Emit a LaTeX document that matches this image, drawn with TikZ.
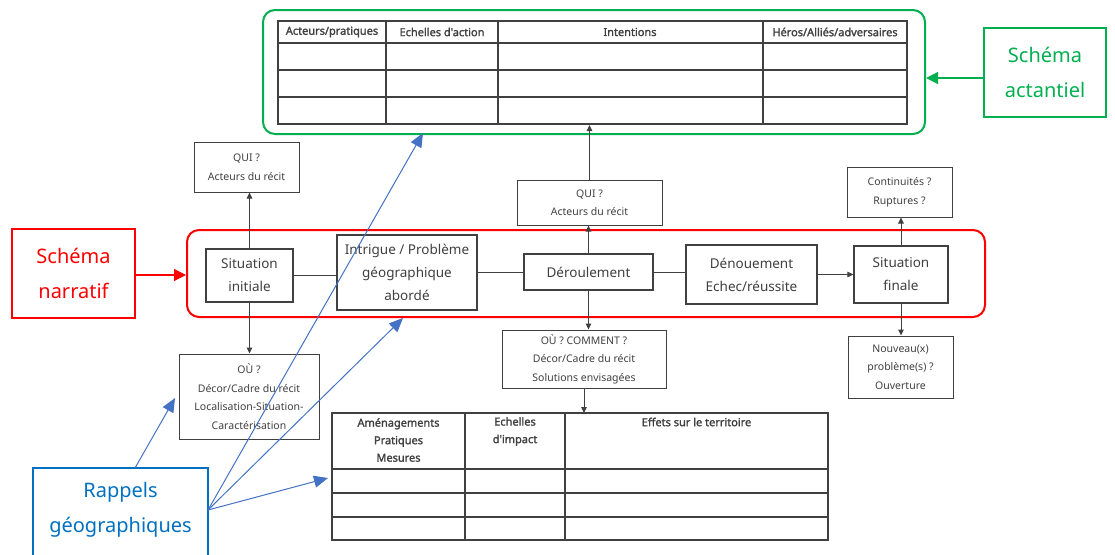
\documentclass[tikz,border=0pt]{standalone}
\usepackage{fontspec}
\setmainfont{Noto Sans}
\newfontfamily\entete[FakeBold=1.8]{Noto Sans}
\usetikzlibrary{arrows.meta}

\definecolor{boxgray}{RGB}{64,64,64}
\definecolor{narred}{RGB}{255,0,0}
\definecolor{actgreen}{RGB}{0,176,80}
\definecolor{rapblue}{RGB}{0,112,192}
\definecolor{arrblue}{RGB}{68,114,196}

\tikzset{
  etape/.style={draw=boxgray, line width=1.2pt, text=boxgray, align=center, inner sep=0pt,
    font=\fontsize{13.5}{23}\selectfont},
  question/.style={draw=boxgray, line width=1pt, text=boxgray, align=center, inner sep=0pt,
    font=\fontsize{10.5}{18.5}\selectfont},
  titre/.style={line width=1.2pt, align=center, inner sep=0pt, font=\fontsize{20}{35}\selectfont},
  cellule/.style={text=boxgray, align=center, inner sep=0pt,
    font=\entete\fontsize{11}{17.5}\selectfont},
  fleche/.style={-{Triangle[length=6pt,width=5.5pt]}, line width=1pt, boxgray},
  rappel/.style={-{Triangle[length=14pt,width=12pt]}, line width=1pt, arrblue},
}

\begin{document}
\begin{tikzpicture}[x=1pt,y=-1pt]
  \useasboundingbox (0,0) rectangle (1115,554);

  % schema actantiel
  \node[draw=actgreen, line width=2pt, rounded corners=12pt, minimum width=662pt, minimum height=124pt] (actantiel) at (594,72) {};
  \draw[boxgray, line width=1.3pt] (278,21) rectangle (907,124);
  \foreach \y in {43,70,97}
    \draw[boxgray, line width=1.3pt] (278,\y)--(907,\y);
  \foreach \x in {386,498,763}
    \draw[boxgray, line width=1.3pt] (\x,21)--(\x,124);
  \node[cellule] at (332,32) {Acteurs/pratiques};
  \node[cellule] at (442,32) {Echelles d'action};
  \node[cellule] at (630,32) {Intentions};
  \node[cellule] at (835,32) {Héros/Alliés/adversaires};
  \coordinate (tabbas) at (589.5,125);

  \node[titre, draw=actgreen, text=actgreen, minimum width=122pt, minimum height=89pt] (sa) at (1045,72.5) {Schéma\\actantiel};
  \draw[-{Triangle[length=12pt,width=12pt]}, actgreen, line width=1.2pt] ([yshift=-5.5pt]sa.west)--([yshift=-5.5pt]sa.west -| actantiel.east);

  % schema narratif
  \node[draw=narred, line width=2pt, rounded corners=12pt, minimum width=798pt, minimum height=87pt] (narratif) at (586,273.5) {};
  \node[titre, draw=narred, text=narred, minimum width=123pt, minimum height=89pt] (sn) at (73.5,273.5) {Schéma\\narratif};
  \draw[-{Triangle[length=12pt,width=12pt]}, narred, line width=1.2pt] ([yshift=-1.5pt]sn.east)--([yshift=-1.5pt]sn.east -| narratif.west);

  \node[etape, minimum width=87pt, minimum height=53pt] (si) at (249.5,275.5) {Situation\\initiale};
  \node[etape, minimum width=140pt, minimum height=75pt] (intr) at (407,272.5) {Intrigue / Problème\\géographique\\abordé};
  \node[etape, minimum width=129pt, minimum height=36pt] (der) at (588.5,272) {Déroulement};
  \node[etape, minimum width=131pt, minimum height=59pt] (den) at (751.5,274.5) {Dénouement\\Echec/réussite};
  \node[etape, minimum width=94pt, minimum height=57pt] (sf) at (901,274.5) {Situation\\finale};

  \node[question, minimum width=105pt, minimum height=50pt] (qui1) at (246.5,167) {QUI ?\\Acteurs du récit};
  \node[question, minimum width=145pt, minimum height=45pt] (qui2) at (589.5,202.5) {QUI ?\\Acteurs du récit};
  \node[question, minimum width=105pt, minimum height=50pt] (cont) at (899.5,192) {Continuités ?\\Ruptures ?};
  \node[question, minimum width=140pt, minimum height=85pt] (ou1) at (249,396.5) {OÙ ?\\Décor/Cadre du récit\\Localisation-Situation-\\Caractérisation};
  \node[question, minimum width=164pt, minimum height=58pt] (ou2) at (584,359) {OÙ ? COMMENT ?\\Décor/Cadre du récit\\Solutions envisagées};
  \node[question, minimum width=105pt, minimum height=62pt] (nouv) at (900.5,367) {Nouveau(x)\\problème(s) ?\\Ouverture};

  \draw[boxgray, line width=1pt] (si.east)--(si.east -| intr.west);
  \draw[boxgray, line width=1pt] (intr.east)--(intr.east -| der.west);
  \draw[boxgray, line width=1pt] (der.east)--(der.east -| den.west);
  \draw[fleche] (den.east)--(den.east -| sf.west);
  \draw[fleche] (si.north)--(si.north |- qui1.south);
  \draw[fleche] (si.south)--(si.south |- ou1.north);
  \draw[fleche] (der.north)--(der.north |- qui2.south);
  \draw[fleche] (qui2.north)--(qui2.north |- tabbas);
  \draw[fleche] (der.south)--(der.south |- ou2.north);
  \draw[fleche] (sf.north)--(sf.north |- cont.south);
  \draw[fleche] (sf.south)--(sf.south |- nouv.north);

  % tableau des effets
  \draw[boxgray, line width=1.3pt] (332,413) rectangle (828,540);
  \foreach \y in {469,493,517}
    \draw[boxgray, line width=1.3pt] (332,\y)--(828,\y);
  \foreach \x in {465,565}
    \draw[boxgray, line width=1.3pt] (\x,413)--(\x,540);
  \node[cellule] at (398.5,440) {Aménagements\\Pratiques\\Mesures};
  \node[cellule] at (515,431.5) {Echelles\\d'impact};
  \node[cellule] at (696.5,422) {Effets sur le territoire};
  \coordinate (tabeff) at (584,413);
  \draw[fleche] (ou2.south)--(ou2.south |- tabeff);

  % rappels geographiques
  \node[draw=rapblue, line width=1.2pt, minimum width=175pt, minimum height=100pt] (rap) at (120.5,518) {};
  \node[titre, text=rapblue] at (120.5,509.5) {Rappels\\géographiques};
  \coordinate (rdep) at (208,510);
  \coordinate (rhaut) at (135,468);
  \coordinate (vact) at (423,133);
  \coordinate (vnar) at (403,318);
  \coordinate (veff) at (328,478);
  \coordinate (vou) at (175,398);
  \draw[rappel] (rdep)--(vact);
  \draw[rappel] (rdep)--(vnar);
  \draw[rappel] (rdep)--(veff);
  \draw[rappel] (rhaut)--(vou);
\end{tikzpicture}
\end{document}
